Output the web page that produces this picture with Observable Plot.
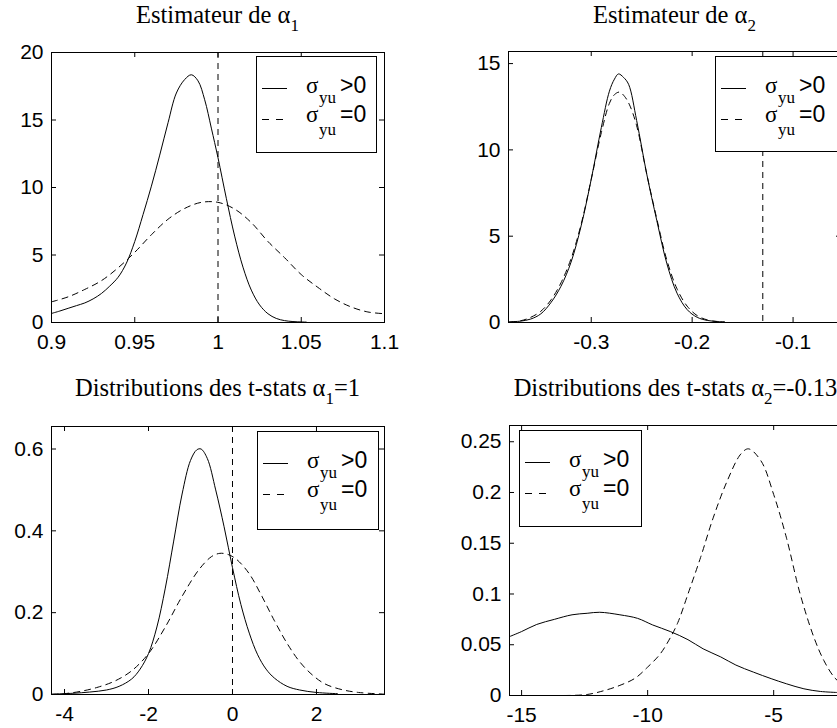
<!DOCTYPE html>
<html>
<head>
<meta charset="utf-8">
<script src="https://cdn.jsdelivr.net/npm/d3@7"></script>
<script src="https://cdn.jsdelivr.net/npm/@observablehq/plot@0.6"></script>
<style>
  html, body { margin: 0; padding: 0; background: #fff; overflow: hidden; }
  #wrap { position: relative; width: 837px; height: 728px; overflow: hidden; }
  #wrap svg { position: absolute; overflow: visible; }
</style>
</head>
<body>
<div id="wrap"></div>
<script>
// ---------- Data ----------
// Panel 1 : Estimateur de alpha_1
const a1SolidX = [0.900,0.905,0.910,0.915,0.920,0.925,0.930,0.935,0.940,0.945,0.950,0.955,0.960,0.965,0.970,0.975,0.980,0.984,0.988,0.992,0.996,1.000,1.005,1.010,1.015,1.020,1.025,1.030,1.035,1.040,1.045,1.050,1.053];
const a1SolidY = [0.67,0.85,1.05,1.25,1.45,1.75,2.15,2.7,3.35,4.4,6.0,8.0,10.1,12.4,14.8,17.0,18.0,18.35,17.9,16.5,14.4,12.2,9.2,6.4,4.1,2.4,1.3,0.65,0.3,0.14,0.07,0.04,0.03];
const a1DashX = [0.900,0.910,0.920,0.930,0.940,0.950,0.960,0.970,0.980,0.990,1.000,1.010,1.020,1.030,1.040,1.050,1.060,1.070,1.080,1.090,1.100];
const a1DashY = [1.53,1.9,2.45,3.1,4.05,5.2,6.5,7.65,8.45,8.9,8.9,8.4,7.4,6.0,4.8,3.55,2.6,1.75,1.15,0.78,0.65];
const a1Ref = 1;
const a1XTicks = [0.9,0.95,1,1.05,1.1];
const a1YTicks = [0,5,10,15,20];

// Panel 2 : Estimateur de alpha_2
const a2SolidX = [-0.381,-0.370,-0.360,-0.350,-0.340,-0.330,-0.320,-0.310,-0.300,-0.290,-0.282,-0.277,-0.273,-0.268,-0.263,-0.255,-0.245,-0.235,-0.225,-0.215,-0.205,-0.195,-0.185,-0.175,-0.168];
const a2SolidY = [0.04,0.08,0.2,0.5,1.15,2.1,3.5,5.6,8.3,11.3,13.4,14.1,14.4,14.2,13.8,11.7,8.6,5.9,3.4,1.7,0.75,0.3,0.12,0.06,0.04];
const a2DashX = [-0.381,-0.370,-0.360,-0.350,-0.340,-0.330,-0.320,-0.310,-0.300,-0.290,-0.282,-0.277,-0.272,-0.267,-0.262,-0.255,-0.245,-0.235,-0.225,-0.215,-0.205,-0.195,-0.185,-0.175,-0.168];
const a2DashY = [0.03,0.1,0.3,0.65,1.3,2.3,3.7,5.7,8.3,11.0,12.7,13.2,13.35,13.1,12.6,11.4,8.6,6.0,3.6,1.95,0.95,0.4,0.15,0.05,0.02];
const a2Ref = -0.13;
const a2XTicks = [-0.3,-0.2,-0.1];
const a2YTicks = [0,5,10,15];

// Panel 3 : t-stats alpha_1 = 1
const t1SolidX = [-4.3,-3.8,-3.4,-3.0,-2.7,-2.4,-2.2,-2.0,-1.8,-1.6,-1.4,-1.2,-1.0,-0.85,-0.75,-0.6,-0.4,-0.2,0.0,0.2,0.4,0.6,0.8,1.0,1.3,1.6,2.0,2.5];
const t1SolidY = [0.001,0.003,0.006,0.011,0.02,0.038,0.062,0.1,0.165,0.26,0.375,0.49,0.572,0.598,0.6,0.577,0.5,0.41,0.31,0.22,0.15,0.097,0.062,0.04,0.02,0.011,0.005,0.002];
const t1DashX = [-4.3,-4.0,-3.6,-3.2,-2.8,-2.4,-2.0,-1.6,-1.2,-0.8,-0.5,-0.3,-0.1,0.1,0.4,0.7,1.0,1.3,1.6,1.9,2.2,2.6,3.0,3.6];
const t1DashY = [0.0,0.002,0.008,0.018,0.033,0.058,0.1,0.165,0.24,0.305,0.337,0.345,0.342,0.33,0.295,0.24,0.18,0.125,0.08,0.048,0.026,0.012,0.005,0.001];
const t1Ref = 0;
const t1XTicks = [-4,-2,0,2];
const t1YTicks = [0,0.2,0.4,0.6];

// Panel 4 : t-stats alpha_2 = -0.13
const t2SolidX = [-15.48,-15.0,-14.4,-13.7,-13.0,-12.4,-11.9,-11.1,-10.4,-9.8,-9.1,-8.4,-7.8,-7.1,-6.5,-5.8,-5.1,-4.5,-3.8,-3.15,-2.5];
const t2SolidY = [0.058,0.063,0.070,0.075,0.0795,0.081,0.082,0.0795,0.076,0.0695,0.063,0.055,0.046,0.038,0.030,0.023,0.0166,0.0116,0.0066,0.004,0.003];
const t2DashX = [-13.3,-12.4,-11.7,-11.1,-10.5,-10.0,-9.5,-9.1,-8.8,-8.4,-7.9,-7.4,-6.85,-6.3,-6.0,-5.5,-5.0,-4.5,-3.95,-3.4,-3.0,-2.6,-2.27];
const t2DashY = [0.0,0.001,0.005,0.01,0.017,0.028,0.041,0.057,0.072,0.1,0.136,0.175,0.211,0.238,0.243,0.231,0.198,0.156,0.1,0.057,0.034,0.018,0.01];
const t2XTicks = [-15,-10,-5];
const t2YTicks = [0,0.05,0.1,0.15,0.2,0.25];

const legendLabels = [">0", "=0"];

// ---------- Drawing ----------
const SERIF = "'Liberation Serif', 'Times New Roman', serif";
const SANS = "'Liberation Sans', Arial, sans-serif";
const DASH = "6,5";
const rows = (xs, ys) => xs.map((x, i) => ({x, y: ys[i]}));

function panel(o) {
  const w = o.width - o.ml - o.mr;
  const h = o.height - o.mt - o.mb;
  const TL = 5;
  const marks = [
    Plot.tickX(o.xTicks, {x: d => d, insetTop: h - TL, stroke: "black"}),
    Plot.tickX(o.xTicks, {x: d => d, insetBottom: h - TL, stroke: "black"}),
    Plot.tickY(o.yTicks, {y: d => d, insetRight: w - TL, stroke: "black"}),
    Plot.tickY(o.yTicks, {y: d => d, insetLeft: w - TL, stroke: "black"})
  ];
  if (o.ref !== undefined) marks.push(Plot.ruleX([o.ref], {x: d => d, stroke: "black", strokeDasharray: DASH}));
  marks.push(
    Plot.line(rows(o.solidX, o.solidY), {x: "x", y: "y", stroke: "black", strokeWidth: 1, curve: "catmull-rom", clip: true}),
    Plot.line(rows(o.dashX, o.dashY), {x: "x", y: "y", stroke: "black", strokeWidth: 1, strokeDasharray: DASH, curve: "catmull-rom", clip: true}),
    Plot.frame({stroke: "black"}),
    Plot.axisX({ticks: o.xTicks, tickSize: 0, tickPadding: 12, tickFormat: d => String(d), label: null,
      fontFamily: SANS, fontSize: 21, fill: "black"}),
    Plot.axisY({ticks: o.yTicks, tickSize: 0, tickPadding: 8, tickFormat: d => String(d), label: null,
      fontFamily: SANS, fontSize: 21, fill: "black"})
  );
  const svg = Plot.plot({
    width: o.width, height: o.height,
    marginLeft: o.ml, marginRight: o.mr, marginTop: o.mt, marginBottom: o.mb,
    x: {domain: o.xDomain},
    y: {domain: o.yDomain},
    style: {fontFamily: SERIF, fontSize: "22px", color: "black", background: "white", overflow: "visible"},
    marks
  });
  svg.style.left = o.left + "px";
  svg.style.top = o.top + "px";
  const s = d3.select(svg);

  // title with subscript
  const t = s.append("text")
    .attr("x", o.ml + w / 2).attr("y", o.titleY)
    .attr("text-anchor", "middle")
    .style("font-family", SERIF).style("font-size", "24.5px").attr("fill", "black");
  t.append("tspan").text(o.title[0]);
  t.append("tspan").attr("dy", 8).style("font-size", "17px").text(o.title[1]);
  if (o.title[2]) t.append("tspan").attr("dy", -8).text(o.title[2]);

  // legend
  const lx = o.legend[0], ly = o.legend[1], lw = o.legend[2], lh = o.legend[3];
  const g = s.append("g").style("font-family", SERIF).attr("fill", "black").attr("text-anchor", "start");
  g.append("rect").attr("x", lx + 0.5).attr("y", ly + 0.5).attr("width", lw).attr("height", lh)
    .attr("fill", "white").attr("stroke", "black");
  const rowsY = [[32, 37, 47], [63, 66, 79]];
  legendLabels.forEach((lab, i) => {
    const [ys, yb, ysub] = rowsY[i];
    g.append("line").attr("x1", lx + 6).attr("x2", lx + 31).attr("y1", ly + ys + 0.5).attr("y2", ly + ys + 0.5)
      .attr("stroke", "black").attr("stroke-dasharray", i === 1 ? "7,7" : null);
    g.append("text").attr("x", lx + 50).attr("y", ly + yb).style("font-size", "23px").text("σ");
    g.append("text").attr("x", lx + 63).attr("y", ly + ysub).style("font-size", "17px").text("yu");
    g.append("text").attr("x", lx + 84).attr("y", ly + yb).style("font-family", SANS).style("font-size", "23px").text(lab);
  });
  document.getElementById("wrap").appendChild(svg);
}

panel({left: 0, top: 0, width: 420, height: 360, ml: 51, mr: 36, mt: 52, mb: 38,
  xDomain: [0.9, 1.1], yDomain: [0, 20], xTicks: a1XTicks, yTicks: a1YTicks, ref: a1Ref,
  solidX: a1SolidX, solidY: a1SolidY, dashX: a1DashX, dashY: a1DashY,
  title: ["Estimateur de α", "1"], titleY: 23, legend: [256, 56, 120, 96]});

panel({left: 420, top: 0, width: 430, height: 360, ml: 88, mr: 9, mt: 51, mb: 38,
  xDomain: [-0.382, -0.052], yDomain: [0, 15.7], xTicks: a2XTicks, yTicks: a2YTicks, ref: a2Ref,
  solidX: a2SolidX, solidY: a2SolidY, dashX: a2DashX, dashY: a2DashY,
  title: ["Estimateur de α", "2"], titleY: 23, legend: [295, 56, 124, 95]});

panel({left: 0, top: 360, width: 420, height: 368, ml: 51, mr: 36, mt: 66, mb: 34,
  xDomain: [-4.31, 3.62], yDomain: [0, 0.655], xTicks: t1XTicks, yTicks: t1YTicks, ref: t1Ref,
  solidX: t1SolidX, solidY: t1SolidY, dashX: t1DashX, dashY: t1DashY,
  title: ["Distributions des t-stats α", "1", "=1"], titleY: 36, legend: [257, 71, 121, 98]});

panel({left: 420, top: 360, width: 430, height: 368, ml: 89, mr: 8, mt: 65, mb: 33,
  xDomain: [-15.48, -2.27], yDomain: [0, 0.266], xTicks: t2XTicks, yTicks: t2YTicks,
  solidX: t2SolidX, solidY: t2SolidY, dashX: t2DashX, dashY: t2DashY,
  title: ["Distributions des t-stats α", "2", "=-0.13"], titleY: 36, legend: [99, 70, 122, 96]});
</script>
</body>
</html>
